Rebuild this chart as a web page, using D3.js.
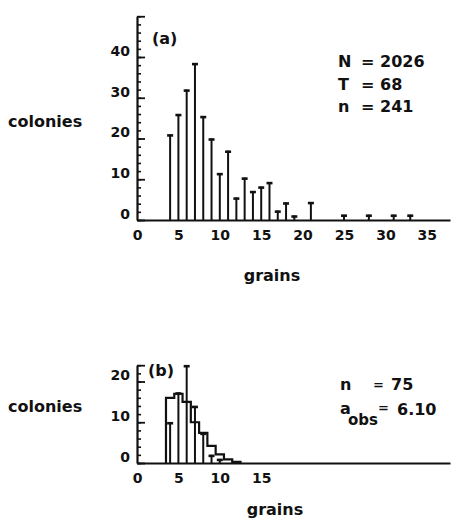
<!DOCTYPE html>
<html>
<head>
<meta charset="utf-8">
<script src="https://cdn.jsdelivr.net/npm/d3@7"></script>
<style>
  html, body { margin: 0; padding: 0; background: #fff; }
  svg { display: block; }
  text { font-family: "DejaVu Sans", sans-serif; font-weight: bold; fill: #111; }
</style>
</head>
<body>
<script>
// ---- Panel (a) data ----
const grainsA   = [4, 5, 6, 7, 8, 9, 10, 11, 12, 13, 14, 15, 16, 17, 18, 19, 21, 25, 28, 31, 33];
const coloniesA = [21, 26, 32, 38.5, 25.5, 20, 11.5, 17, 5.5, 10.4, 7.1, 8.2, 9.3, 2.3, 4.3, 1.1, 4.4, 1.3, 1.3, 1.3, 1.3];
const xTicksA = [0, 5, 10, 15, 20, 25, 30, 35];
const yTicksA = [0, 10, 20, 30, 40];
const statsA = [["N", "2026"], ["T", "68"], ["n", "241"]];

// ---- Panel (b) data ----
const binGrainsB = [4, 5, 6, 7, 8, 9, 10, 11, 12];
const binValuesB = [16, 17, 15, 10, 7.4, 4.2, 2.1, 0.9, 0.3];
const grainsB    = [4, 5, 6, 7, 8, 9, 10];
const coloniesB  = [10, 17.3, 24, 14, 7.4, 2, 1];
const xTicksB = [0, 5, 10, 15];
const yTicksB = [0, 10, 20];
const nB = "75", aObsB = "6.10";

const W = 454, H = 519;
const svg = d3.select("body").append("svg").attr("width", W).attr("height", H);
svg.append("rect").attr("width", W).attr("height", H).attr("fill", "#fff");

const ink = "#111";
const x = d3.scaleLinear().domain([0, 37.8]).range([137, 450]);

function panel(g, y, yMax, minorStep, yTicks, xTicks) {
  // minor ticks
  g.append("g").attr("transform", `translate(${x(0)},0)`)
    .call(d3.axisLeft(y).tickValues(d3.range(0, yMax + 0.001, minorStep)).tickSize(-4).tickFormat(""))
    .call(a => a.select(".domain").remove())
    .call(a => a.selectAll("line").attr("stroke", ink).attr("stroke-width", 1.6));
  // major ticks + labels
  const majors = d3.range(0, yMax + 0.001, 10);
  if (majors[majors.length - 1] !== yMax) majors.push(yMax);
  g.append("g").attr("transform", `translate(${x(0)},0)`)
    .call(d3.axisLeft(y).tickValues(majors).tickSize(-8).tickSizeOuter(0).tickPadding(7)
      .tickFormat(d => yTicks.includes(d) ? d : ""))
    .call(a => a.select(".domain").attr("stroke", ink).attr("stroke-width", 2.2))
    .call(a => a.selectAll("line").attr("stroke", ink).attr("stroke-width", 1.8))
    .call(a => a.selectAll("text").attr("y", -6).style("font-size", "14px")
      .style("font-family", "DejaVu Sans").style("font-weight", "bold").attr("fill", ink));
  // x axis
  g.append("g").attr("transform", `translate(0,${y(0)})`)
    .call(d3.axisBottom(x).tickValues(xTicks).tickSize(0).tickSizeOuter(0).tickPadding(10))
    .call(a => a.select(".domain").attr("stroke", ink).attr("stroke-width", 2.2))
    .call(a => a.selectAll("text").style("font-size", "14px")
      .style("font-family", "DejaVu Sans").style("font-weight", "bold").attr("fill", ink));
}

function stems(g, y, xs, vs, capW) {
  const s = g.append("g");
  xs.forEach((k, i) => {
    s.append("line").attr("x1", x(k)).attr("x2", x(k)).attr("y1", y(0)).attr("y2", y(vs[i]))
      .attr("stroke", ink).attr("stroke-width", 2);
    s.append("line").attr("x1", x(k) - capW / 2).attr("x2", x(k) + capW / 2)
      .attr("y1", y(vs[i]) + 1).attr("y2", y(vs[i]) + 1)
      .attr("stroke", ink).attr("stroke-width", 2.6);
  });
}

// ---------- Panel (a) ----------
const yA = d3.scaleLinear().domain([0, 50]).range([220, 220 - 50 * 4.075]);
const gA = svg.append("g");
panel(gA, yA, 50, 2, yTicksA, xTicksA);
stems(gA, yA, grainsA, coloniesA, 6);

gA.append("text").attr("x", 152).attr("y", 44).style("font-size", "16px").text("(a)");
statsA.forEach((d, i) => {
  const by = 67 + i * 22.5;
  gA.append("text").attr("x", 338).attr("y", by).style("font-size", "16px").text(d[0]);
  gA.append("text").attr("x", 361).attr("y", by).style("font-size", "16px").text("=");
  gA.append("text").attr("x", 380).attr("y", by).style("font-size", "16px").text(d[1]);
});
gA.append("text").attr("x", 8).attr("y", 127).style("font-size", "16px").text("colonies");
gA.append("text").attr("x", 272).attr("y", 281).attr("text-anchor", "middle").style("font-size", "16px").text("grains");

// ---------- Panel (b) ----------
const yB = d3.scaleLinear().domain([0, 24]).range([463, 463 - 24 * 4.075]);
const gB = svg.append("g");
panel(gB, yB, 24, 2, yTicksB, xTicksB);

const histPts = [[binGrainsB[0] - 0.5, 0]]
  .concat(binGrainsB.map((k, i) => [k - 0.5, binValuesB[i]]))
  .concat([[binGrainsB[binGrainsB.length - 1] + 0.5, 0]]);
gB.append("path")
  .attr("d", d3.line().x(d => x(d[0])).y(d => yB(d[1])).curve(d3.curveStepAfter)(histPts))
  .attr("fill", "none").attr("stroke", ink).attr("stroke-width", 2.2);
stems(gB, yB, grainsB, coloniesB, 6);

gB.append("text").attr("x", 148).attr("y", 376).style("font-size", "16px").text("(b)");
gB.append("text").attr("x", 340).attr("y", 390).style("font-size", "16px").text("n");
gB.append("text").attr("x", 373).attr("y", 389).style("font-size", "13px").text("=");
gB.append("text").attr("x", 391).attr("y", 390).style("font-size", "16px").text(nB);
gB.append("text").attr("x", 340).attr("y", 414).style("font-size", "16px").text("a");
gB.append("text").attr("x", 348).attr("y", 425).style("font-size", "15px").text("obs");
gB.append("text").attr("x", 378).attr("y", 412).style("font-size", "13px").text("=");
gB.append("text").attr("x", 397).attr("y", 415).style("font-size", "16px").text(aObsB);
gB.append("text").attr("x", 8).attr("y", 412).style("font-size", "16px").text("colonies");
gB.append("text").attr("x", 275).attr("y", 515).attr("text-anchor", "middle").style("font-size", "16px").text("grains");
</script>
</body>
</html>
